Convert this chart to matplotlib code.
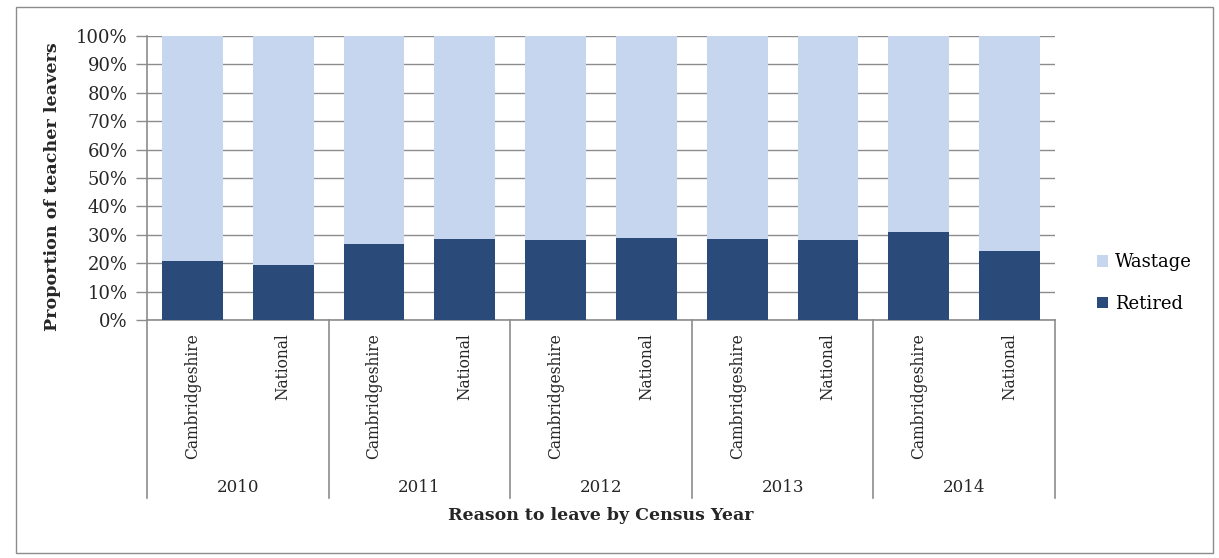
import matplotlib
matplotlib.use("Agg")
import matplotlib.pyplot as plt
from matplotlib.patches import Rectangle, Patch
import numpy as np

years = ["2010", "2011", "2012", "2013", "2014"]
areas = ["Cambridgeshire", "National"]
retired = [20.8, 19.5, 26.6, 28.5, 28.0, 28.7, 28.4, 28.2, 31.0, 24.3]
wastage = [100 - r for r in retired]
yticks = [0, 10, 20, 30, 40, 50, 60, 70, 80, 90, 100]

DARK = "#2A4A7A"
LIGHT = "#C5D6EE"
GRID = "#8C8C8C"
TXT = "#262626"
FONT = "DejaVu Serif"
plt.rcParams["font.family"] = FONT

W, H = 1219, 558
fig = plt.figure(figsize=(W / 100, H / 100), dpi=100)

# outer chart border
fig.patches.append(Rectangle((16 / W, 1 - 553 / H), (1213 - 16) / W, (553 - 7) / H,
                             transform=fig.transFigure, fill=False,
                             edgecolor="#8C8C8C", linewidth=1.0))

x0, x1, y0, y1 = 147, 1055, 320, 36
ax = fig.add_axes([x0 / W, 1 - y0 / H, (x1 - x0) / W, (y0 - y1) / H])
axh = y0 - y1

x = np.arange(len(retired))
ax.bar(x, retired, width=0.67, color=DARK, zorder=3)
ax.bar(x, wastage, bottom=retired, width=0.67, color=LIGHT, zorder=3)

ax.set_xlim(-0.5, len(retired) - 0.5)
ax.set_ylim(0, 100)
ax.set_yticks(yticks)
ax.set_yticklabels([f"{t}%" for t in yticks], fontsize=13, color=TXT)
ax.yaxis.grid(True, color=GRID, linewidth=1.0, zorder=0)
ax.tick_params(axis="y", length=8, width=1, color=GRID, pad=6)
ax.set_xticks([])
for s in ["top", "right"]:
    ax.spines[s].set_visible(False)
for s in ["left", "bottom"]:
    ax.spines[s].set_color(GRID)
    ax.spines[s].set_linewidth(1.2)

# hierarchical category axis
trans = ax.get_xaxis_transform()
for i, xi in enumerate(x):
    ax.text(xi, -13 / axh, areas[i % 2], rotation=90, ha="center", va="top",
            fontsize=11.2, color=TXT, transform=trans)
for g in range(len(years) + 1):
    xb = g * 2 - 0.5
    ax.plot([xb, xb], [0, -178 / axh], color=GRID, linewidth=1.2,
            transform=trans, clip_on=False)
for g, yr in enumerate(years):
    ax.text(g * 2 + 0.5, -167 / axh, yr, ha="center", va="center",
            fontsize=12, color=TXT, transform=trans)

ax.text(0.5, -196 / axh, "Reason to leave by Census Year", ha="center", va="center",
        fontsize=12.5, fontweight="bold", color=TXT, transform=ax.transAxes)
fig.text(53 / W, 1 - 187 / H, "Proportion of teacher leavers", rotation=90,
         ha="center", va="center", fontsize=12.6, fontweight="bold", color=TXT)

handles = [Patch(facecolor=LIGHT, label="Wastage"), Patch(facecolor=DARK, label="Retired")]
fig.legend(handles=handles, loc="center left", bbox_to_anchor=(1081 / W, 1 - 283 / H),
           frameon=False, fontsize=13, handlelength=0.6, handleheight=0.6,
           handletextpad=0.4, labelspacing=1.3)

fig.savefig("out.png", dpi=100)
